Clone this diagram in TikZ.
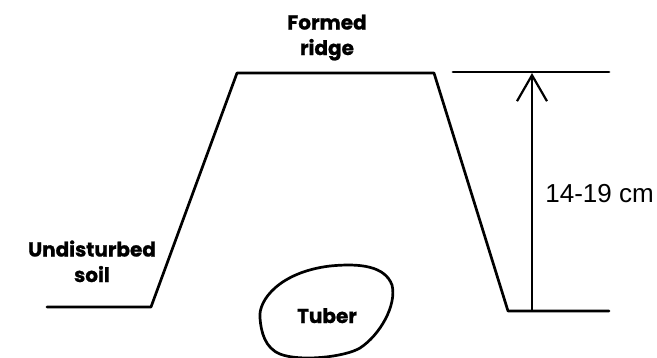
\documentclass[tikz,border=0pt]{standalone}
\usepackage{fontspec}
\setmainfont{Poppins}[BoldFeatures={FakeBold=1}]
\newfontfamily\dimfont{Liberation Sans}
\usetikzlibrary{arrows.meta}
\begin{document}
\begin{tikzpicture}[x=1pt,y=-1pt,
  profile/.style={line width=2.7pt,line join=round,line cap=round},
  lbl/.style={font=\bfseries\fontsize{20}{25.5}\selectfont,align=center,inner sep=0pt},
  dim/.style={line width=2.2pt,-{Straight Barb[length=26pt,width=30pt,line width=2.2pt]}}]
\useasboundingbox (0,0) rectangle (657,357);
% ridge cross-section
\coordinate (l0) at (47,307);
\coordinate (l1) at (151,307);
\coordinate (t0) at (237,73);
\coordinate (t1) at (434,73);
\coordinate (r1) at (508,311);
\coordinate (r0) at (609,311);
\draw[profile] (l0) -- (l1) -- (t0) -- (t1) -- (r1) -- (r0);
% reference line at ridge height
\coordinate (h0) at (453,72);
\coordinate (h1) at (609,72);
\draw[profile] (h0) -- (h1);
% height dimension
\coordinate (a0) at (532,311);
\coordinate (a1) at (532,73);
\draw[dim] (a0) -- (a1);
\node[anchor=base east,inner sep=0pt,font=\dimfont\fontsize{26}{30}\selectfont] (hgt) at (654,202) {14-19 cm};
% labels (base anchor sits on the last line)
\node[lbl,anchor=base] (ridge) at (327,55) {Formed\\ridge};
\node[lbl,anchor=base] (soil) at (92,282) {Undisturbed\\soil};
% tuber
\draw[line width=2.7pt] (260,318) .. controls (258,300) and (280,272) .. (330,266)
  .. controls (360,263) and (385,266) .. (392,285)
  .. controls (397,305) and (380,335) .. (360,348)
  .. controls (345,357) and (300,362) .. (280,354)
  .. controls (265,348) and (261,332) .. (260,318) -- cycle;
\node[lbl,anchor=base] (tuber) at (327,323) {Tuber};
\end{tikzpicture}
\end{document}
